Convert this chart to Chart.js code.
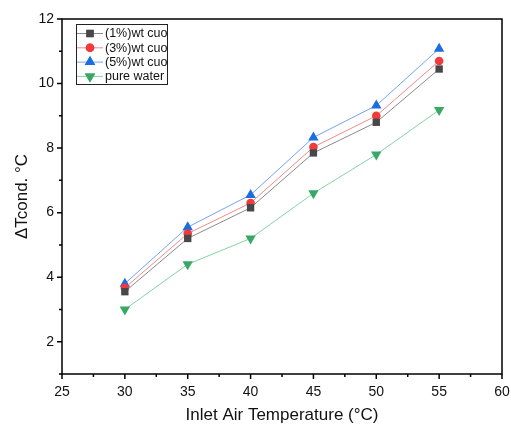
<!DOCTYPE html>
<html>
<head>
<meta charset="utf-8">
<script src="https://cdn.jsdelivr.net/npm/chart.js@4.4.1/dist/chart.umd.min.js"></script>
<style>
  html, body { margin: 0; padding: 0; background: #fff; }
  #wrap { width: 511px; height: 430px; }
</style>
</head>
<body>
<div id="wrap"><canvas id="chart" width="511" height="430"></canvas></div>
<script>
// values
const temps = [30, 35, 40, 45, 50, 55];
const cuo1 = [3.55, 5.2, 6.15, 7.85, 8.8, 10.45];
const cuo3 = [3.67, 5.35, 6.3, 8.03, 9.0, 10.7];
const cuo5 = [3.8, 5.55, 6.55, 8.33, 9.32, 11.08];
const water = [3.0, 4.4, 5.2, 6.6, 7.8, 9.18];
const xTicks = [25, 30, 35, 40, 45, 50, 55, 60];
const yTicks = [2, 4, 6, 8, 10, 12];

const FONT = 'Liberation Sans, Arial, sans-serif';

function pts(ys) {
    return temps.map((t, i) => ({ x: t, y: ys[i] }));
}

function series(label, ys, marker, line, style, radius, rotation) {
    return {
        label: label,
        data: pts(ys),
        borderColor: line,
        borderWidth: 1,
        pointStyle: style,
        pointRadius: radius,
        pointHoverRadius: radius,
        pointRotation: rotation || 0,
        pointBackgroundColor: marker,
        pointBorderColor: marker,
        pointBorderWidth: 0,
        tension: 0
    };
}

// ticks, frame and in-plot legend
const framePlugin = {
    id: 'frame',
    afterDraw(chart) {
        const ctx = chart.ctx;
        const a = chart.chartArea;
        const xs = chart.scales.x, ys = chart.scales.y;
        ctx.save();
        ctx.strokeStyle = '#000';
        ctx.lineWidth = 1.5;
        ctx.strokeRect(a.left, a.top, a.right - a.left, a.bottom - a.top);
        ctx.beginPath();
        for (let v = 25; v <= 60; v += 2.5) {
            const px = xs.getPixelForValue(v);
            const len = (v % 5 === 0) ? 5 : 3;
            ctx.moveTo(px, a.bottom);
            ctx.lineTo(px, a.bottom + len);
        }
        for (let v = 1; v <= 12; v += 1) {
            const py = ys.getPixelForValue(v);
            const len = (v % 2 === 0) ? 5 : 3;
            ctx.moveTo(a.left, py);
            ctx.lineTo(a.left - len, py);
        }
        ctx.stroke();

        // legend
        const bx = 76, by = 24, bw = 91, bh = 60;
        ctx.fillStyle = '#fff';
        ctx.fillRect(bx, by, bw, bh);
        ctx.lineWidth = 1;
        ctx.strokeStyle = '#222';
        ctx.strokeRect(bx + 0.5, by + 0.5, bw, bh);
        ctx.font = '12.5px ' + FONT;
        ctx.textBaseline = 'middle';
        chart.data.datasets.forEach((ds, i) => {
            const cy = by + 9.5 + i * 14.3;
            ctx.strokeStyle = ds.borderColor;
            ctx.lineWidth = 1;
            ctx.beginPath();
            ctx.moveTo(bx + 1, cy);
            ctx.lineTo(bx + 27, cy);
            ctx.stroke();
            ctx.fillStyle = ds.pointBackgroundColor;
            Chart.helpers.drawPoint(ctx, {
                pointStyle: ds.pointStyle,
                radius: ds.pointRadius,
                rotation: ds.pointRotation,
                borderWidth: 0
            }, bx + 14, cy);
            ctx.fill();
            ctx.fillStyle = '#111';
            ctx.fillText(ds.label, bx + 29, cy + 0.5);
        });
        ctx.restore();
    }
};

new Chart(document.getElementById('chart').getContext('2d'), {
    type: 'line',
    data: {
        datasets: [
            series('(1%)wt cuo', cuo1, '#474747', '#8a8a8a', 'rect', 5.2),
            series('(3%)wt cuo', cuo3, '#ef3b3b', '#f28a8a', 'circle', 4.3),
            series('(5%)wt cuo', cuo5, '#1a6ee0', '#74a3ec', 'triangle', 6),
            series('pure water', water, '#38a865', '#86d2a4', 'triangle', 6, 180)
        ]
    },
    options: {
        responsive: false,
        animation: false,
        layout: { padding: { top: 19, right: 0, left: 0, bottom: 0 } },
        plugins: {
            legend: { display: false },
            tooltip: { enabled: false }
        },
        scales: {
            x: {
                type: 'linear',
                min: 25,
                max: 60,
                afterBuildTicks: s => { s.ticks = xTicks.map(v => ({ value: v })); },
                afterFit: s => { s.height = 56; s.paddingRight = 9; s.paddingLeft = 0; },
                grid: { display: false, drawTicks: false },
                border: { display: false },
                ticks: {
                    color: '#111',
                    padding: 10,
                    maxRotation: 0,
                    font: { family: FONT, size: 14 }
                },
                title: {
                    display: true,
                    text: 'Inlet Air Temperature (°C)',
                    color: '#111',
                    padding: { top: 4 },
                    font: { family: FONT, size: 17 }
                }
            },
            y: {
                min: 1,
                max: 12,
                afterBuildTicks: s => { s.ticks = yTicks.map(v => ({ value: v })); },
                afterFit: s => { s.width = 62; },
                grid: { display: false, drawTicks: false },
                border: { display: false },
                ticks: {
                    color: '#111',
                    padding: 8,
                    font: { family: FONT, size: 14 }
                },
                title: {
                    display: true,
                    text: 'ΔTcond. °C',
                    color: '#111',
                    padding: { top: 12, bottom: 0 },
                    font: { family: FONT, size: 17 }
                }
            }
        }
    },
    plugins: [framePlugin]
});
</script>
</body>
</html>
